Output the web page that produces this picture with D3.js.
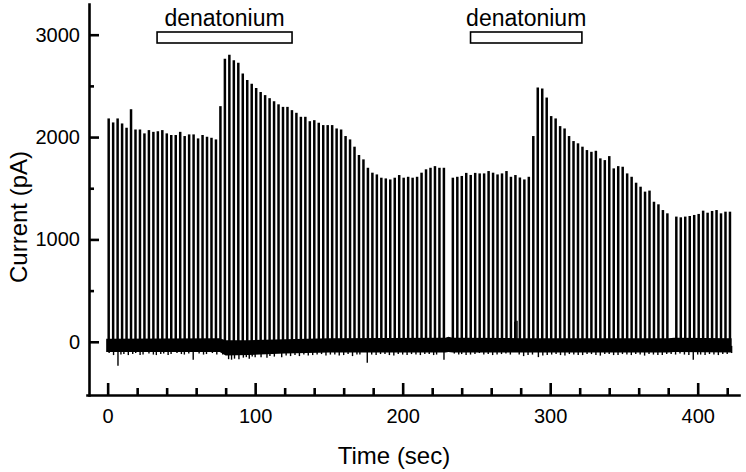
<html>
<head>
    <style>
        body { margin: 0; background: #fff; }
        text { font-family: "Liberation Sans", Arial, Helvetica, sans-serif; fill: #000; }
        .axis path, .axis line { stroke: #000; stroke-width: 2.6; }
        .axis text { font-size: 20px; }
        .title { font-size: 24px; }
        .spike { stroke: #000; stroke-width: 2.5; }
        .noise { stroke: #000; stroke-width: 1.4; }
        .drug rect { fill: #fff; stroke: #000; stroke-width: 1.6; }
        .drug text { font-size: 23px; text-anchor: middle; }
    </style>
    <script src="https://d3js.org/d3.v7.min.js"></script>
</head>
<body>
    <svg width="746" height="472"></svg>
    <script>
        // peak current (pA) of each evoked response, one every ~3 s; null = missing sweep
        var firstSpike = 0.7,
            spikeInterval = 3.03;
        var peaks = [
            2182, 2143, 2182, 2133, 2091, 2272, 2074, 2074, 2036, 2068,
            2051, 2057, 2068, 2036, 2020, 2020, 2051, 2010, 2026, 2026,
            1987, 2020, 2003, 1993, 1977, 2302, 2765, 2804, 2750, 2725,
            2621, 2557, 2520, 2480, 2440, 2410, 2380, 2350, 2320, 2295,
            2295, 2263, 2237, 2198, 2198, 2155, 2165, 2140, 2117, 2117,
            2117, 2084, 2074, 2010, 1977, 1906, 1825, 1782, 1700, 1652,
            1635, 1603, 1596, 1586, 1603, 1629, 1603, 1612, 1603, 1612,
            1652, 1685, 1700, 1716, 1700, 1700, null, 1603, 1612, 1620,
            1650, 1630, 1650, 1645, 1645, 1668, 1652, 1635, 1645, 1668,
            1612, 1629, 1605, 1586, 1612, 2010, 2484, 2474, 2386, 2205,
            2182, 2107, 2084, 2010, 1961, 1939, 1906, 1873, 1856, 1866,
            1792, 1775, 1814, 1694, 1716, 1710, 1645, 1612, 1554, 1515,
            1467, 1477, 1368, 1343, 1287, 1255, null, 1223, 1216, 1223,
            1229, 1239, 1249, 1281, 1261, 1278, 1287, 1255, 1271, 1271
        ];

        // holding-current baseline band
        var baseTimes = [-1, 76, 80, 95, 120, 150, 229, 231, 234, 280, 380, 384, 423];
        var baseHigh  = [30, 35, 15, 15, 25, 35, 40, 50, 40, 35, 35, 40, 35];
        var baseLow   = [-100, -100, -135, -130, -115, -105, -105, -100, -105, -105, -105, -100, -105];

        // noise excursions off the baseline [time, pA]
        var noiseTicks = [
            [1,-110],[4,-130],[7,-235],[9,-125],[11,-120],[14,-130],[17,-120],[19,-110],[22,-130],
            [24,-125],[28,-115],[31,-125],[33,-130],[36,-120],[38,-115],[41,-130],[43,-120],
            [47,-110],[50,-120],[52,-125],[55,-115],[58,-175],[62,-115],[65,-125],[67,-120],
            [71,-110],[74,-125],[78,-125],[82,-170],[84,-175],[86,-165],[89,-170],[92,-155],
            [94,-150],[96,-165],[98,-145],[100,-150],[104,-150],[108,-155],[110,-140],[113,-145],
            [118,-150],[121,-135],[124,-140],[127,-130],[130,-140],[133,-125],[136,-135],
            [139,-130],[142,-125],[145,-120],[148,-135],[151,-125],[154,-125],[157,-135],
            [160,-130],[163,-120],[166,-140],[169,-125],[171,-125],[176,-205],[179,-125],
            [182,-130],[185,-120],[188,-120],[191,-130],[194,-135],[197,-120],[200,-125],
            [203,-130],[206,-120],[209,-125],[212,-130],[215,-120],[218,-120],[221,-130],
            [223,-125],[228,-175],[235,-115],[238,-125],[240,-120],[243,-130],[246,-125],
            [249,-120],[252,-110],[255,-125],[258,-120],[261,-130],[264,-125],[267,-120],
            [270,-115],[273,-125],[276,195],[277.5,205],[279,-125],[282,-140],[285,-130],
            [288,-125],[292,-150],[295,-135],[298,-130],[301,-125],[304,-120],[307,-130],
            [310,-135],[313,-120],[316,-125],[319,-130],[322,-130],[325,-120],[328,-120],
            [331,-130],[334,-135],[337,-120],[340,-120],[343,-130],[346,-130],[349,-120],
            [352,-125],[355,-130],[358,-120],[361,-125],[364,-135],[367,-120],[370,-125],
            [373,-130],[376,-130],[379,-120],[382,-120],[385,-125],[388,-115],[391,-125],
            [394,-130],[397,-175],[400,-125],[402,-125],[405,-130],[408,-120],[411,-125],
            [414,-130],[417,-120],[420,-120],[423,-110]
        ];

        // denatonium application periods (sec)
        var drugLabels = ["denatonium", "denatonium"];
        var drugStart = [33.5, 246];
        var drugEnd = [125, 321.5];

        var xMajor = [0, 100, 200, 300, 400];
        var xMinor = [20, 40, 60, 80, 120, 140, 160, 180, 220, 240, 260, 280, 320, 340, 360, 380, 420];
        var yMajor = [0, 1000, 2000, 3000];
        var yMinor = [500, 1500, 2500];

        var svg = d3.select("svg");

        var x = d3.scaleLinear().domain([-14, 428]).range([87, 739]);
        var y = d3.scaleLinear().domain([-520, 3300]).range([395, 4]);

        // baseline band
        var base = baseTimes.map(function(t, i) { return { t: t, hi: baseHigh[i], lo: baseLow[i] }; });
        svg.append("path")
           .datum(base)
           .attr("fill", "#000")
           .attr("d", d3.area()
               .x(function(d) { return x(d.t); })
               .y0(function(d) { return y(d.lo); })
               .y1(function(d) { return y(d.hi); }));

        svg.selectAll(".noise")
           .data(noiseTicks)
           .enter().append("line")
           .attr("class", "noise")
           .attr("x1", function(d) { return x(d[0]); })
           .attr("x2", function(d) { return x(d[0]); })
           .attr("y1", y(-40))
           .attr("y2", function(d) { return y(d[1]); });

        // responses
        var spikes = peaks.map(function(p, i) { return { t: firstSpike + i * spikeInterval, v: p }; })
                          .filter(function(d) { return d.v !== null; });
        svg.selectAll(".spike")
           .data(spikes)
           .enter().append("line")
           .attr("class", "spike")
           .attr("x1", function(d) { return x(d.t); })
           .attr("x2", function(d) { return x(d.t); })
           .attr("y1", y(-60))
           .attr("y2", function(d) { return y(d.v); });

        // axes, ticks pointing inward
        svg.append("g").attr("class", "axis")
           .attr("transform", "translate(0,395)")
           .call(d3.axisBottom(x).tickValues(xMinor).tickFormat("").tickSize(-7).tickSizeOuter(0))
           .select(".domain").remove();
        svg.append("g").attr("class", "axis")
           .attr("transform", "translate(0,395)")
           .call(d3.axisBottom(x).tickValues(xMajor).tickFormat(d3.format("d"))
                 .tickSize(-12).tickSizeOuter(0).tickPadding(14));

        svg.append("g").attr("class", "axis")
           .attr("transform", "translate(89,0)")
           .call(d3.axisLeft(y).tickValues(yMinor).tickFormat("").tickSize(-5).tickSizeOuter(0))
           .select(".domain").remove();
        svg.append("g").attr("class", "axis")
           .attr("transform", "translate(89,0)")
           .call(d3.axisLeft(y).tickValues(yMajor).tickFormat(d3.format("d"))
                 .tickSize(-10).tickSizeOuter(0).tickPadding(9));

        svg.selectAll(".axis .domain").attr("stroke-linecap", "square");

        // drug bars
        var drug = svg.selectAll(".drug")
                      .data(drugLabels)
                      .enter().append("g")
                      .attr("class", "drug");
        drug.append("rect")
            .attr("x", function(d, i) { return x(drugStart[i]); })
            .attr("width", function(d, i) { return x(drugEnd[i]) - x(drugStart[i]); })
            .attr("y", 32)
            .attr("height", 11);
        drug.append("text")
            .attr("x", function(d, i) { return (x(drugStart[i]) + x(drugEnd[i])) / 2; })
            .attr("y", 26)
            .text(function(d) { return d; });

        svg.append("text")
           .attr("class", "title")
           .attr("text-anchor", "middle")
           .attr("x", 394)
           .attr("y", 464)
           .text("Time (sec)");

        svg.append("text")
           .attr("class", "title")
           .attr("text-anchor", "middle")
           .attr("transform", "translate(27,217) rotate(-90)")
           .text("Current (pA)");
    </script>
</body>
</html>
